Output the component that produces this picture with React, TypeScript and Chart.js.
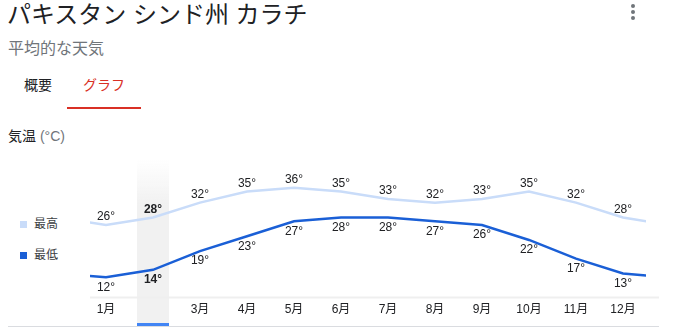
import React, { useEffect, useRef } from "react";
import { Chart, registerables } from "chart.js";

Chart.register(...registerables);

const months = ["1月", "2月", "3月", "4月", "5月", "6月", "7月", "8月", "9月", "10月", "11月", "12月"];
const highs = [26, 28, 32, 35, 36, 35, 33, 32, 33, 35, 32, 28];
const lows = [12, 14, 19, 23, 27, 28, 28, 27, 26, 22, 17, 13];
const seriesNames = ["最高", "最低"];
const selectedIndex = 1;

const FONT = "'Liberation Sans', Arial, 'Noto Sans CJK JP', sans-serif";
const HIGH_COLOR = "#c9dcf9";
const LOW_COLOR = "#1a5fd6";

function withWrap(values: number[]) {
  const pts = values.map((v, i) => ({ x: i, y: v }));
  return [{ x: -1, y: values[values.length - 1] }, ...pts, { x: values.length, y: values[0] }];
}

const decorPlugin = {
  id: "decor",
  beforeDatasetsDraw(chart: any) {
    const { ctx, chartArea, scales } = chart;
    const xs = scales.x;
    const cx = xs.getPixelForValue(selectedIndex);
    const top = 10;
    const bottom = 173;
    const g = ctx.createLinearGradient(0, top, 0, top + 45);
    g.addColorStop(0, "rgba(241,241,241,0)");
    g.addColorStop(1, "rgba(241,241,241,1)");
    ctx.save();
    ctx.fillStyle = g;
    ctx.fillRect(cx - 16, top, 32, bottom - top);
    ctx.fillStyle = "#efefef";
    ctx.fillRect(chartArea.left, chartArea.bottom - 0.5, chartArea.right + 13 - chartArea.left, 2);
    ctx.fillStyle = "#4285f4";
    ctx.fillRect(cx - 16, 173, 32, 3);
    ctx.fillStyle = "#dadce0";
    ctx.fillRect(8, 176, 651, 1);
    ctx.restore();
  },
  afterDatasetsDraw(chart: any) {
    const { ctx } = chart;
    ctx.save();
    ctx.textAlign = "center";
    ctx.fillStyle = "#202124";
    chart.data.datasets.forEach((ds: any, di: number) => {
      const meta = chart.getDatasetMeta(di);
      const values = di === 0 ? highs : lows;
      values.forEach((v, i) => {
        const el = meta.data[i + 1];
        ctx.font = (i === selectedIndex ? "bold " : "") + "12px " + FONT;
        if (di === 0) {
          ctx.textBaseline = "bottom";
          ctx.fillText(v + "°", el.x, el.y - 2);
        } else {
          ctx.textBaseline = "top";
          ctx.fillText(v + "°", el.x, el.y + 4);
        }
      });
    });
    ctx.restore();
  },
};

function WeatherChart() {
  const ref = useRef<HTMLCanvasElement | null>(null);
  useEffect(() => {
    if (!ref.current) return;
    const chart = new Chart(ref.current, {
      type: "line",
      data: {
        datasets: [
          {
            label: seriesNames[0],
            data: withWrap(highs),
            borderColor: HIGH_COLOR,
            borderWidth: 2.5,
            pointRadius: 0,
            tension: 0,
          },
          {
            label: seriesNames[1],
            data: withWrap(lows),
            borderColor: LOW_COLOR,
            borderWidth: 2.5,
            pointRadius: 0,
            tension: 0,
          },
        ],
      },
      options: {
        animation: false,
        responsive: false,
        devicePixelRatio: 1,
        layout: { padding: { left: 90, right: 27, top: 0, bottom: 0 } },
        plugins: { legend: { display: false }, tooltip: { enabled: false } },
        events: [],
        scales: {
          x: {
            type: "linear",
            min: -16 / 47,
            max: 11 + 23 / 47,
            grid: { display: false, drawTicks: false },
            border: { display: false },
            afterFit: (s: any) => {
              s.height = 36;
            },
            afterBuildTicks: (s: any) => {
              s.ticks = months.map((_, i) => ({ value: i }));
            },
            ticks: {
              stepSize: 1,
              includeBounds: false,
              autoSkip: false,
              maxRotation: 0,
              padding: 5,
              color: "#202124",
              font: (c: any) => ({
                family: FONT,
                size: 12,
                weight: c.tick && c.tick.value === selectedIndex ? "bold" : "normal",
              }),
              callback: (v: any) => months[v as number] ?? "",
            },
          },
          y: {
            display: false,
            min: 6.72,
            max: 46.1,
          },
        },
      },
      plugins: [decorPlugin],
    });
    return () => chart.destroy();
  }, []);
  return (
    <canvas
      ref={ref}
      width={673}
      height={183}
      style={{ position: "absolute", left: 0, top: 150, width: 673, height: 183 }}
    />
  );
}

export default function App() {
  const abs = (l: number, t: number): React.CSSProperties => ({
    position: "absolute",
    left: l,
    top: t,
    whiteSpace: "nowrap",
    fontFamily: FONT,
  });
  return (
    <div style={{ position: "absolute", left: 0, top: 0, width: 673, height: 333, background: "#fff", overflow: "hidden" }}>
      <div style={{ ...abs(7, 1), fontSize: 24, lineHeight: "28px", color: "#202124" }}>パキスタン シンド州 カラチ</div>
      <div style={{ ...abs(8, 39), fontSize: 16, lineHeight: "20px", color: "#70757a" }}>平均的な天気</div>
      {[6, 12, 18].map((y) => (
        <div key={y} style={{ position: "absolute", left: 631, top: y - 2, width: 4, height: 4, borderRadius: 2, background: "#70757a" }} />
      ))}
      <div style={{ ...abs(24, 76), fontSize: 14, lineHeight: "18px", color: "#202124" }}>概要</div>
      <div style={{ ...abs(83, 76), fontSize: 14, lineHeight: "18px", color: "#d93025" }}>グラフ</div>
      <div style={{ position: "absolute", left: 67, top: 107, width: 74, height: 2, background: "#d93025" }} />
      <div style={{ ...abs(8, 127), fontSize: 14, lineHeight: "18px", color: "#202124" }}>
        気温 <span style={{ color: "#70757a" }}>(°C)</span>
      </div>
      {[
        { name: seriesNames[0], color: HIGH_COLOR, y: 224 },
        { name: seriesNames[1], color: LOW_COLOR, y: 255 },
      ].map((l) => (
        <React.Fragment key={l.name}>
          <div style={{ position: "absolute", left: 20, top: l.y - 3.5, width: 7, height: 7, background: l.color }} />
          <div style={{ ...abs(34, l.y - 8), fontSize: 12, lineHeight: "16px", color: "#3c4043" }}>{l.name}</div>
        </React.Fragment>
      ))}
      <WeatherChart />
    </div>
  );
}
